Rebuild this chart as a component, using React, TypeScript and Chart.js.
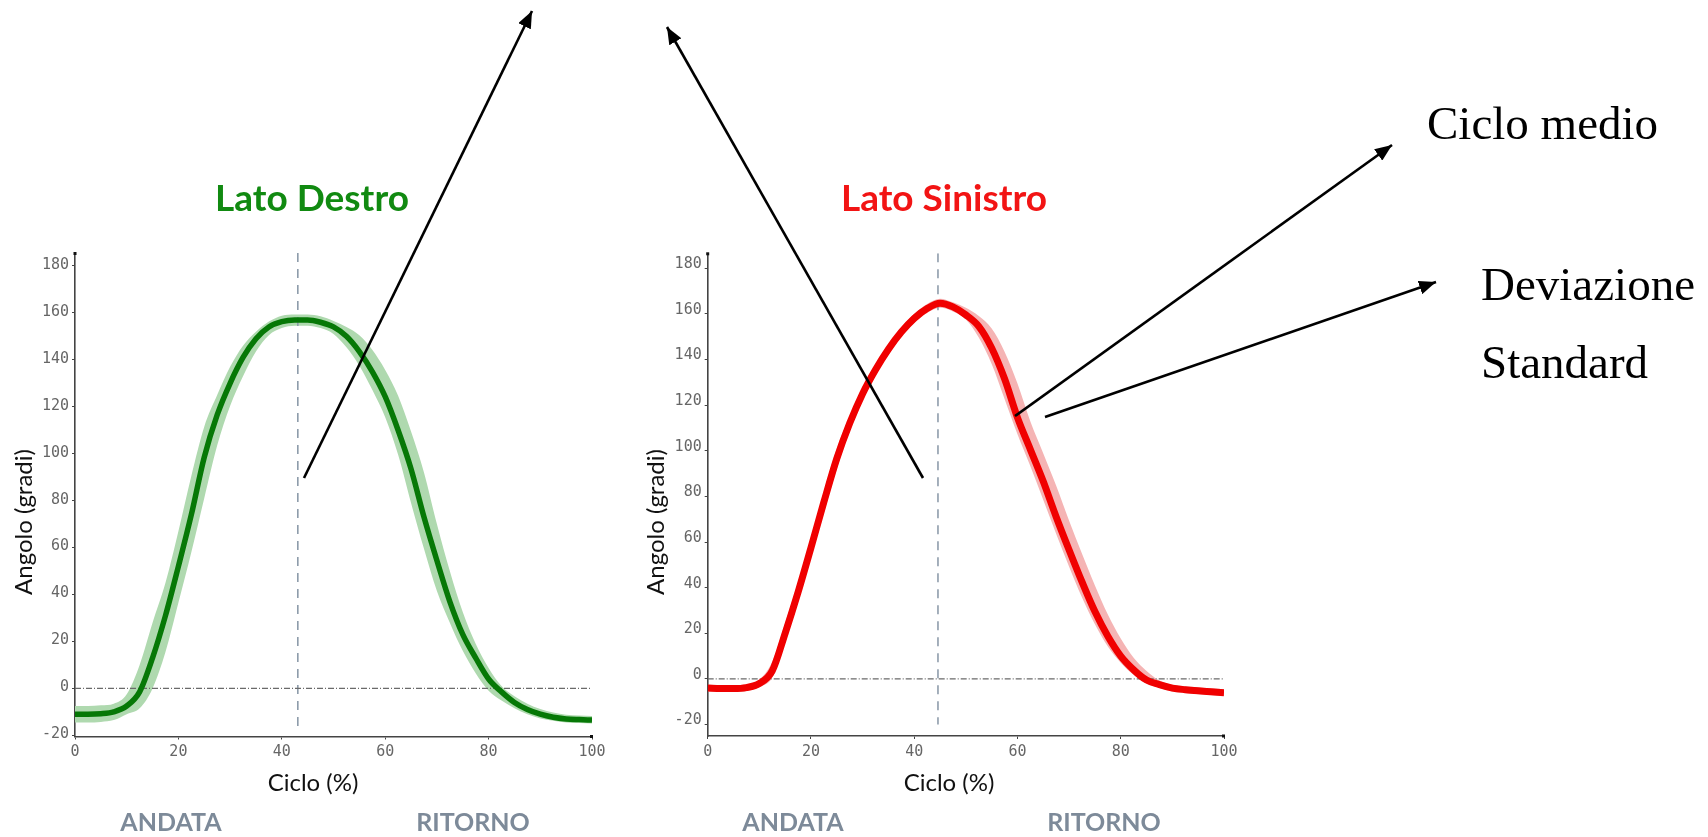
import React, { useEffect, useRef } from "react";
import { Chart, registerables } from "chart.js";

Chart.register(...registerables);

// ---------------- data ----------------
const cycle = [0, 2.5, 5, 7.5, 10, 12.5, 15, 17.5, 20, 22.5, 25, 27.5, 30, 32.5, 35, 37.5, 40, 42.5, 45, 47.5, 50, 52.5, 55, 57.5, 60, 62.5, 65, 67.5, 70, 72.5, 75, 77.5, 80, 82.5, 85, 87.5, 90, 92.5, 95, 97.5, 100];

// Lato Destro (green)
const destroMean = [-11, -11, -10.8, -10, -7.5, -1.5, 13, 31, 52, 74, 98.5, 116.5, 130, 141, 149, 154, 156.3, 157, 157, 156, 154, 150, 143.5, 135, 124.3, 110, 93.5, 73, 54.5, 37, 23, 13, 4, -1.5, -6, -9, -11, -12.3, -13, -13.3, -13.5];
const destroUpper = [-7.5, -7.5, -7.2, -6.5, -2.5, 10, 28, 45, 67, 90.5, 111.5, 125, 137, 146, 152, 156.3, 158.8, 159.3, 159.3, 158.5, 156.5, 154, 150.5, 144.3, 135.7, 124.7, 109.4, 92, 70, 50, 32.5, 19, 8.7, 1, -3.3, -6.5, -8.8, -10.3, -11.2, -11.6, -11.8];
const destroLower = [-14.5, -14.5, -14.3, -13.5, -11, -8.5, 0, 15.5, 36.5, 58, 81, 103.5, 120.3, 133, 143.5, 150.5, 153.5, 154.5, 154.5, 153.5, 151, 145.3, 137.5, 127.2, 115.5, 99.5, 79, 59.5, 41.5, 28, 16, 6.5, -1, -5.2, -8.5, -11, -12.8, -13.8, -14.5, -14.8, -15];

// Lato Sinistro (red)
const sinistroMean = [-4, -4.2, -4.2, -3.8, -2, 3.5, 20, 38, 57.5, 77.5, 96.5, 112, 125, 135.5, 144.5, 152, 158, 162.3, 164.6, 163, 159.5, 154.5, 145, 131.5, 114.5, 100.5, 86.5, 71, 56.5, 42.5, 29.5, 18.7, 10, 4, -0.5, -2.5, -4, -4.7, -5.2, -5.6, -6];
const sinistroUpper = [-2.5, -2.7, -2.7, -2.3, -0.3, 7.5, 24.5, 42.5, 62, 82, 101, 115, 127.5, 137.8, 146.5, 154, 160, 164.3, 166.6, 165, 162.6, 159, 153.5, 143.4, 129.5, 112.8, 98.8, 84.6, 69.3, 54.8, 40.9, 28.2, 17.7, 9.3, 3.5, -0.7, -2.5, -3.2, -3.7, -4.1, -4.5];
const sinistroLower = [-5.5, -5.7, -5.7, -5.3, -3.5, 0.5, 16, 33.7, 53, 72.7, 92, 108.5, 122, 133, 142, 150, 156, 160.3, 162.6, 161, 157.5, 149.6, 138, 122.7, 107.2, 93.2, 78.4, 63.5, 49.2, 35.7, 24, 14.2, 7.1, 1.7, -2, -4, -5.5, -6.2, -6.7, -7.1, -7.5];

const angleTicks = [-20, 0, 20, 40, 60, 80, 100, 120, 140, 160, 180];
const cycleTicks = [0, 20, 40, 60, 80, 100];
const zeroLineX = [0, 100];
const zeroLineY = [0, 0];

const destroMarkerX = 43.1;
const destroMarkerY = [185.5, -16.2];
const sinistroMarkerX = 44.6;
const sinistroMarkerY = [186.5, -20];

const destroRange = [-20.5, 185.5];
const sinistroRange = [-25, 186.5];

// ---------------- chart ----------------
type PanelDef = {
  mean: number[];
  upper: number[];
  lower: number[];
  markerX: number;
  markerY: number[];
  range: number[];
  lineColor: string;
  bandColor: string;
  lineWidth: number;
  left: number;
  top: number;
  width: number;
  height: number;
  yAxisWidth: number;
  xAxisHeight: number;
  padTop: number;
  padRight: number;
  labelOffset: number;
};

const toPts = (ys: number[]) => cycle.map((x, i) => ({ x, y: ys[i] }));

const axisEnds = {
  id: "axisEnds",
  afterDraw(chart: any) {
    const { ctx, chartArea } = chart;
    ctx.save();
    ctx.fillStyle = "#111";
    ctx.fillRect(chartArea.left - 1.5, chartArea.top - 1, 3, 3);
    ctx.fillRect(chartArea.right - 2, chartArea.bottom - 1.5, 3, 3);
    ctx.restore();
  },
};

function PanelChart({ p }: { p: PanelDef }) {
  const ref = useRef<HTMLCanvasElement | null>(null);
  useEffect(() => {
    if (!ref.current) return;
    const chart = new Chart(ref.current, {
      type: "line",
      data: {
        datasets: [
          {
            data: toPts(p.mean),
            borderColor: p.lineColor,
            borderWidth: p.lineWidth,
            pointRadius: 0,
            cubicInterpolationMode: "monotone",
            fill: false,
            order: 0,
          },
          {
            data: toPts(p.upper),
            borderColor: "rgba(0,0,0,0)",
            borderWidth: 0,
            backgroundColor: p.bandColor,
            pointRadius: 0,
            cubicInterpolationMode: "monotone",
            fill: "+1",
            order: 4,
          },
          {
            data: toPts(p.lower),
            borderColor: "rgba(0,0,0,0)",
            borderWidth: 0,
            pointRadius: 0,
            cubicInterpolationMode: "monotone",
            fill: false,
            order: 4,
          },
          {
            data: zeroLineX.map((x, i) => ({ x, y: zeroLineY[i] })),
            borderColor: "#6a6a6a",
            borderWidth: 1.2,
            borderDash: [6, 2, 1, 2],
            pointRadius: 0,
            fill: false,
            order: 1,
          },
          {
            data: p.markerY.map((y) => ({ x: p.markerX, y })),
            borderColor: "#8e9cab",
            borderWidth: 1.6,
            borderDash: [9, 7],
            pointRadius: 0,
            fill: false,
            order: 2,
          },
        ],
      },
      options: {
        animation: false,
        responsive: false,
        events: [],
        layout: { padding: { left: 0, top: p.padTop, right: p.padRight, bottom: 0 } },
        plugins: { legend: { display: false }, tooltip: { enabled: false } },
        scales: {
          x: {
            type: "linear",
            min: 0,
            max: 100,
            afterBuildTicks: (s: any) => {
              s.ticks = cycleTicks.map((v) => ({ value: v }));
            },
            afterFit: (s: any) => {
              s.height = p.xAxisHeight;
            },
            border: { display: true, color: "#444", width: 1.6 },
            grid: { display: true, drawOnChartArea: false, drawTicks: true, tickLength: 3, color: "#444" },
            ticks: {
              font: { family: "DejaVu Sans Mono", size: 15 },
              color: "#666",
              padding: 4,
              maxRotation: 0,
            },
          },
          y: {
            type: "linear",
            min: p.range[0],
            max: p.range[1],
            afterBuildTicks: (s: any) => {
              s.ticks = angleTicks.map((v) => ({ value: v }));
            },
            afterFit: (s: any) => {
              s.width = p.yAxisWidth;
            },
            border: { display: true, color: "#444", width: 1.6 },
            grid: { display: true, drawOnChartArea: false, drawTicks: true, tickLength: 3, color: "#444" },
            ticks: {
              font: { family: "DejaVu Sans Mono", size: 15 },
              color: "#666",
              padding: 3,
              labelOffset: p.labelOffset,
            },
          },
        },
      },
      plugins: [axisEnds],
    } as any);
    return () => chart.destroy();
  }, []);
  return (
    <canvas
      ref={ref}
      width={p.width}
      height={p.height}
      style={{ position: "absolute", left: p.left, top: p.top, width: p.width, height: p.height }}
    />
  );
}

const destroPanel: PanelDef = {
  mean: destroMean,
  upper: destroUpper,
  lower: destroLower,
  markerX: destroMarkerX,
  markerY: destroMarkerY,
  range: destroRange,
  lineColor: "#067806",
  bandColor: "#afd9af",
  lineWidth: 5.5,
  left: 0,
  top: 230,
  width: 610,
  height: 560,
  yAxisWidth: 75,
  xAxisHeight: 53.5,
  padTop: 23,
  padRight: 18,
  labelOffset: -1,
};

const sinistroPanel: PanelDef = {
  mean: sinistroMean,
  upper: sinistroUpper,
  lower: sinistroLower,
  markerX: sinistroMarkerX,
  markerY: sinistroMarkerY,
  range: sinistroRange,
  lineColor: "#f00000",
  bandColor: "#f5b4b4",
  lineWidth: 7,
  left: 630,
  top: 230,
  width: 612,
  height: 560,
  yAxisWidth: 77.7,
  xAxisHeight: 54,
  padTop: 23.3,
  padRight: 18,
  labelOffset: -4,
};

const arrows = [
  [304, 478, 532, 11],
  [923, 478, 667, 27],
  [1015, 416, 1392, 145],
  [1045, 417, 1436, 282],
];

export default function App() {
  return (
    <div
      style={{
        position: "fixed",
        left: 0,
        top: 0,
        width: 1708,
        height: 837,
        background: "#fff",
        overflow: "hidden",
      }}
    >
      <PanelChart p={destroPanel} />
      <PanelChart p={sinistroPanel} />
      <svg
        width={1708}
        height={837}
        style={{ position: "absolute", left: 0, top: 0, pointerEvents: "none" }}
      >
        <defs>
          <marker
            id="head"
            markerUnits="userSpaceOnUse"
            markerWidth="18"
            markerHeight="14"
            refX="17"
            refY="7"
            orient="auto"
          >
            <path d="M0,0 L17,7 L0,14 z" fill="#000" />
          </marker>
        </defs>
        {/* titles */}
        <text x={312} y={211} textAnchor="middle" fontFamily="Lato" fontWeight={700} fontSize={37} fill="#118a11">
          Lato Destro
        </text>
        <text x={944} y={211} textAnchor="middle" fontFamily="Lato" fontWeight={700} fontSize={37} fill="#f21414">
          Lato Sinistro
        </text>
        {/* y axis titles */}
        <text transform="translate(32,522) rotate(-90)" textAnchor="middle" fontFamily="Lato" fontSize={24} fill="#111">
          Angolo (gradi)
        </text>
        <text transform="translate(664,522) rotate(-90)" textAnchor="middle" fontFamily="Lato" fontSize={24} fill="#111">
          Angolo (gradi)
        </text>
        {/* x axis titles */}
        <text x={313} y={791} textAnchor="middle" fontFamily="Lato" fontSize={24} fill="#111">
          Ciclo (%)
        </text>
        <text x={949} y={791} textAnchor="middle" fontFamily="Lato" fontSize={24} fill="#111">
          Ciclo (%)
        </text>
        {/* phase labels */}
        <text x={171} y={831} textAnchor="middle" fontFamily="Lato" fontWeight={700} fontSize={25} fill="#7d8a99">
          ANDATA
        </text>
        <text x={473} y={831} textAnchor="middle" fontFamily="Lato" fontWeight={700} fontSize={25} fill="#7d8a99">
          RITORNO
        </text>
        <text x={793} y={831} textAnchor="middle" fontFamily="Lato" fontWeight={700} fontSize={25} fill="#7d8a99">
          ANDATA
        </text>
        <text x={1104} y={831} textAnchor="middle" fontFamily="Lato" fontWeight={700} fontSize={25} fill="#7d8a99">
          RITORNO
        </text>
        {/* annotation texts */}
        <text x={1427} y={139} fontFamily="Liberation Serif" fontSize={47} fill="#000">
          Ciclo medio
        </text>
        <text x={1481} y={300} fontFamily="Liberation Serif" fontSize={47} fill="#000">
          Deviazione
        </text>
        <text x={1481} y={378} fontFamily="Liberation Serif" fontSize={47} fill="#000">
          Standard
        </text>
        {arrows.map((a, i) => (
          <line
            key={i}
            x1={a[0]}
            y1={a[1]}
            x2={a[2]}
            y2={a[3]}
            stroke="#000"
            strokeWidth={2.6}
            markerEnd="url(#head)"
          />
        ))}
      </svg>
    </div>
  );
}
